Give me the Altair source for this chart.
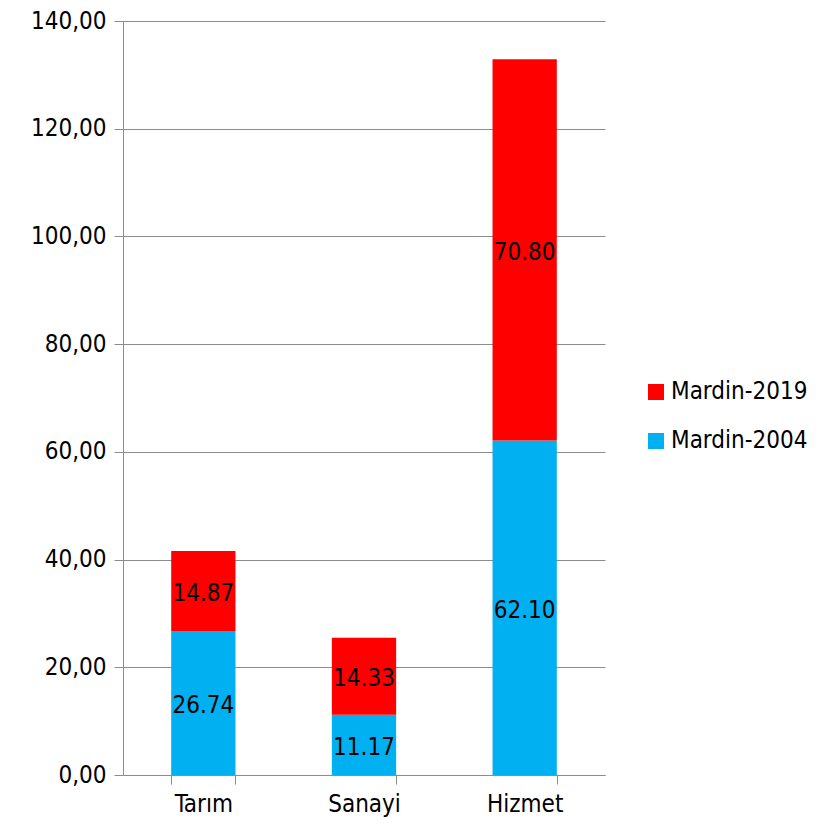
import altair as alt
import pandas as pd

categories = ["Tarım", "Sanayi", "Hizmet"]
series_names = ["Mardin-2004", "Mardin-2019"]
values_2004 = [26.74, 11.17, 62.10]
values_2019 = [14.87, 14.33, 70.80]
colors = ["#00B0F0", "#FF0000"]

rows = []
for i, c in enumerate(categories):
    rows.append({"cat": c, "series": series_names[0], "value": values_2004[i], "ord": 0})
    rows.append({"cat": c, "series": series_names[1], "value": values_2019[i], "ord": 1})
df = pd.DataFrame(rows)

FONT = "DejaVu Sans Condensed, Noto Sans, DejaVu Sans"
GRAY = "#8C8C8C"

base = alt.Chart(df).transform_stack(
    stack="value", groupby=["cat"], as_=["y0", "y1"], sort=[alt.SortField("ord", order="ascending")]
).transform_calculate(mid="(datum.y0 + datum.y1) / 2")

xenc = alt.X("cat:N", sort=categories, title=None,
             scale=alt.Scale(paddingInner=0.6, paddingOuter=0.3),
             axis=alt.Axis(labelAngle=0, tickBand="extent", tickSize=9, tickColor=GRAY,
                           domainColor=GRAY, labelFont=FONT, labelFontSize=24,
                           labelColor="black", labelPadding=8, grid=False))

bars = base.mark_bar().encode(
    x=xenc,
    y=alt.Y("y0:Q", title=None,
            scale=alt.Scale(domain=[0, 140]),
            axis=alt.Axis(values=[0, 20, 40, 60, 80, 100, 120, 140],
                          labelExpr="replace(format(datum.value, '.2f'), '.', ',')",
                          tickSize=9, tickColor=GRAY, domainColor=GRAY,
                          gridColor=GRAY, grid=True, labelFont=FONT, labelFontSize=24,
                          labelColor="black", labelPadding=8)),
    y2="y1:Q",
    color=alt.Color("series:N",
                    scale=alt.Scale(domain=series_names, range=colors),
                    sort=["Mardin-2019", "Mardin-2004"],
                    legend=alt.Legend(title=None, orient="none", legendX=521, legendY=359,
                                      symbolType="square", symbolSize=256, symbolStrokeWidth=0,
                                      labelFont=FONT, labelFontSize=24, labelColor="black",
                                      labelOffset=3, rowPadding=25, padding=0,
                                      values=["Mardin-2019", "Mardin-2004"])),
)

labels = base.mark_text(font=FONT, fontSize=24, color="black", baseline="middle", dy=3).encode(
    x=alt.X("cat:N", sort=categories),
    y=alt.Y("mid:Q"),
    text=alt.Text("value:Q", format=".2f"),
)

chart = alt.layer(bars, labels).properties(
    width=482, height=754,
    autosize=alt.AutoSizeParams(type="none"),
    padding={"left": 115, "top": 13, "right": 213, "bottom": 48},
).configure_view(stroke=None).configure_axis(domainWidth=1, tickWidth=1, gridWidth=1)

chart.save("out.html", embed_options={"renderer": "svg", "actions": False})
